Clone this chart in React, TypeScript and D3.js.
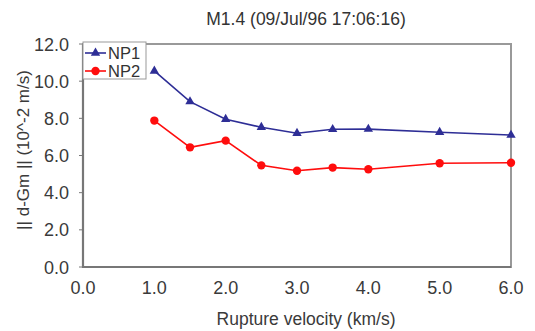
import React, { useEffect, useRef } from 'react';
import * as d3 from 'd3';

const velocity = [1.0, 1.5, 2.0, 2.5, 3.0, 3.5, 4.0, 5.0, 6.0];
const np1 = [10.55, 8.9, 7.95, 7.52, 7.2, 7.41, 7.42, 7.25, 7.1];
const np2 = [7.88, 6.44, 6.8, 5.47, 5.18, 5.35, 5.26, 5.58, 5.61];
const xTicks = [0, 1, 2, 3, 4, 5, 6];
const yTicks = [0, 2, 4, 6, 8, 10, 12];

const W = 535;
const H = 331;

export default function App() {
  const svgRef = useRef<SVGSVGElement>(null);

  useEffect(() => {
    document.body.style.margin = '0';
    const svg = d3.select(svgRef.current);
    svg.selectAll('*').remove();

    const margin = { top: 44, right: 24, bottom: 64, left: 83 };
    const innerW = W - margin.left - margin.right;
    const innerH = H - margin.top - margin.bottom;
    const font = '"Liberation Sans", Arial, sans-serif';
    const textColor = '#3a3a3a';

    const x = d3.scaleLinear().domain([0, 6]).range([0, innerW]);
    const y = d3.scaleLinear().domain([0, 12]).range([innerH, 0]);

    svg.append('rect').attr('width', W).attr('height', H).attr('fill', '#fff');

    const g = svg.append('g').attr('transform', `translate(${margin.left},${margin.top})`);

    // frame
    g.append('rect')
      .attr('width', innerW)
      .attr('height', innerH)
      .attr('fill', 'none')
      .attr('stroke', '#999')
      .attr('stroke-width', 2);
    g.append('path')
      .attr('d', `M0,0V${innerH}H${innerW}`)
      .attr('fill', 'none')
      .attr('stroke', '#777')
      .attr('stroke-width', 2.2);

    g.selectAll('.ytick')
      .data(yTicks)
      .join('line')
      .attr('x1', -4)
      .attr('x2', 0)
      .attr('y1', d => y(d))
      .attr('y2', d => y(d))
      .attr('stroke', '#777');

    // tick labels
    g.selectAll('.xt')
      .data(xTicks)
      .join('text')
      .attr('x', d => x(d))
      .attr('y', innerH + 27)
      .attr('text-anchor', 'middle')
      .attr('font-family', font)
      .attr('font-size', 18)
      .attr('fill', textColor)
      .text(d => d.toFixed(1));

    g.selectAll('.yt')
      .data(yTicks)
      .join('text')
      .attr('x', -14)
      .attr('y', d => y(d) + 6.5)
      .attr('text-anchor', 'end')
      .attr('font-family', font)
      .attr('font-size', 18)
      .attr('fill', textColor)
      .text(d => d.toFixed(1));

    // titles
    svg.append('text')
      .attr('x', 306)
      .attr('y', 25)
      .attr('text-anchor', 'middle')
      .attr('font-family', font)
      .attr('font-size', 17.5)
      .attr('fill', '#333')
      .text('M1.4 (09/Jul/96 17:06:16)');

    svg.append('text')
      .attr('x', 306)
      .attr('y', 325)
      .attr('text-anchor', 'middle')
      .attr('font-family', font)
      .attr('font-size', 17.5)
      .attr('fill', textColor)
      .text('Rupture velocity (km/s)');

    svg.append('text')
      .attr('transform', `translate(29,150) rotate(-90)`)
      .attr('text-anchor', 'middle')
      .attr('font-family', font)
      .attr('font-size', 17)
      .attr('fill', textColor)
      .text('|| d-Gm || (10^-2 m/s)');

    const series = [
      { name: 'NP1', values: np1, color: '#2e2e96', shape: d3.symbolTriangle, size: 38 },
      { name: 'NP2', values: np2, color: '#ff0d0d', shape: d3.symbolCircle, size: 55 },
    ];

    const line = d3.line<number>()
      .x((_, i) => x(velocity[i]))
      .y(d => y(d));

    series.forEach(s => {
      g.append('path')
        .attr('d', line(s.values))
        .attr('fill', 'none')
        .attr('stroke', s.color)
        .attr('stroke-width', 1.6);
      g.selectAll(null)
        .data(s.values)
        .join('path')
        .attr('transform', (d, i) => `translate(${x(velocity[i])},${y(d)})`)
        .attr('d', d3.symbol().type(s.shape).size(s.size)())
        .attr('fill', s.color);
    });

    // legend
    const leg = g.append('g').attr('transform', 'translate(0,-2)');
    leg.append('rect')
      .attr('x', 0)
      .attr('y', 0)
      .attr('width', 63)
      .attr('height', 37)
      .attr('fill', '#fff')
      .attr('stroke', '#999')
      .attr('stroke-width', 1);
    series.forEach((s, i) => {
      const cy = 11 + i * 18;
      leg.append('line')
        .attr('x1', 2)
        .attr('x2', 23)
        .attr('y1', cy)
        .attr('y2', cy)
        .attr('stroke', s.color)
        .attr('stroke-width', 1.6);
      leg.append('path')
        .attr('transform', `translate(12.5,${cy})`)
        .attr('d', d3.symbol().type(s.shape).size(s.size)())
        .attr('fill', s.color);
      leg.append('text')
        .attr('x', 25)
        .attr('y', cy + 6)
        .attr('font-family', font)
        .attr('font-size', 16.5)
        .attr('fill', '#333')
        .text(s.name);
    });
  }, []);

  return <svg ref={svgRef} width={W} height={H} style={{ display: 'block' }} />;
}
